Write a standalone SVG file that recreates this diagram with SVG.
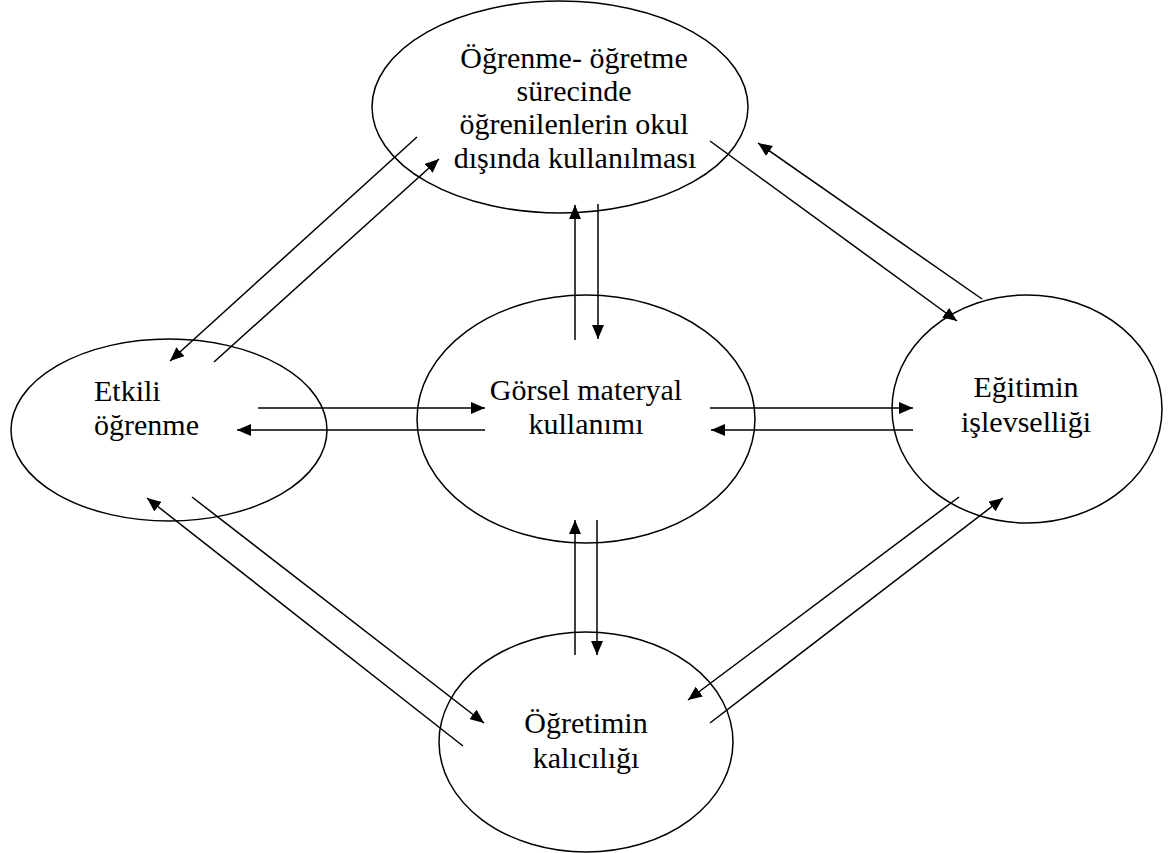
<svg xmlns="http://www.w3.org/2000/svg" width="1173" height="853" viewBox="0 0 1173 853">
<style>
.n{fill:none;stroke:#000;stroke-width:1.5}
.t{font-family:"Liberation Serif","Times New Roman",serif;font-size:30px;fill:#000}
.c line{stroke:#000;stroke-width:1.5;marker-end:url(#ah)}
</style>
<defs>
<marker id="ah" markerUnits="userSpaceOnUse" markerWidth="14" markerHeight="12" refX="14" refY="6" orient="auto">
<path d="M0,0 L14,6 L0,12 z" fill="#000"/>
</marker>
</defs>
<rect width="1173" height="853" fill="#fff"/>
<g id="top">
<ellipse class="n" cx="560" cy="107" rx="188" ry="106"/>
<text class="t" text-anchor="middle" x="574" y="68">Öğrenme- öğretme</text>
<text class="t" text-anchor="middle" x="574" y="101">sürecinde</text>
<text class="t" text-anchor="middle" x="574" y="134">öğrenilenlerin okul</text>
<text class="t" text-anchor="middle" x="575" y="168">dışında kullanılması</text>
</g>
<g id="left">
<ellipse class="n" cx="169" cy="430" rx="158" ry="91"/>
<text class="t" x="94" y="401">Etkili</text>
<text class="t" x="94" y="435">öğrenme</text>
</g>
<g id="center">
<ellipse class="n" cx="586" cy="419" rx="169" ry="124"/>
<text class="t" text-anchor="middle" x="586" y="400">Görsel materyal</text>
<text class="t" text-anchor="middle" x="586" y="434">kullanımı</text>
</g>
<g id="right">
<ellipse class="n" cx="1027" cy="409" rx="135" ry="114"/>
<text class="t" text-anchor="middle" x="1026" y="397">Eğitimin</text>
<text class="t" text-anchor="middle" x="1026" y="432">işlevselliği</text>
</g>
<g id="bottom">
<ellipse class="n" cx="586" cy="742" rx="147" ry="110"/>
<text class="t" text-anchor="middle" x="586" y="733">Öğretimin</text>
<text class="t" text-anchor="middle" x="586" y="768">kalıcılığı</text>
</g>
<g id="connectors" class="c">
<line x1="417" y1="137" x2="170" y2="361"/>
<line x1="214" y1="362" x2="439" y2="159"/>
<line x1="710" y1="141" x2="957" y2="321"/>
<line x1="982" y1="299" x2="758" y2="143"/>
<line x1="258" y1="408" x2="485" y2="408"/>
<line x1="485" y1="430" x2="237" y2="430"/>
<line x1="710" y1="408" x2="913" y2="408"/>
<line x1="913" y1="430" x2="711" y2="430"/>
<line x1="575" y1="340" x2="575" y2="205"/>
<line x1="598" y1="204" x2="598" y2="339"/>
<line x1="575" y1="655" x2="575" y2="520"/>
<line x1="597" y1="520" x2="597" y2="655"/>
<line x1="463" y1="746" x2="147" y2="498"/>
<line x1="192" y1="497" x2="484" y2="723"/>
<line x1="959" y1="497" x2="688" y2="700"/>
<line x1="710" y1="723" x2="1003" y2="498"/>
</g>
</svg>
